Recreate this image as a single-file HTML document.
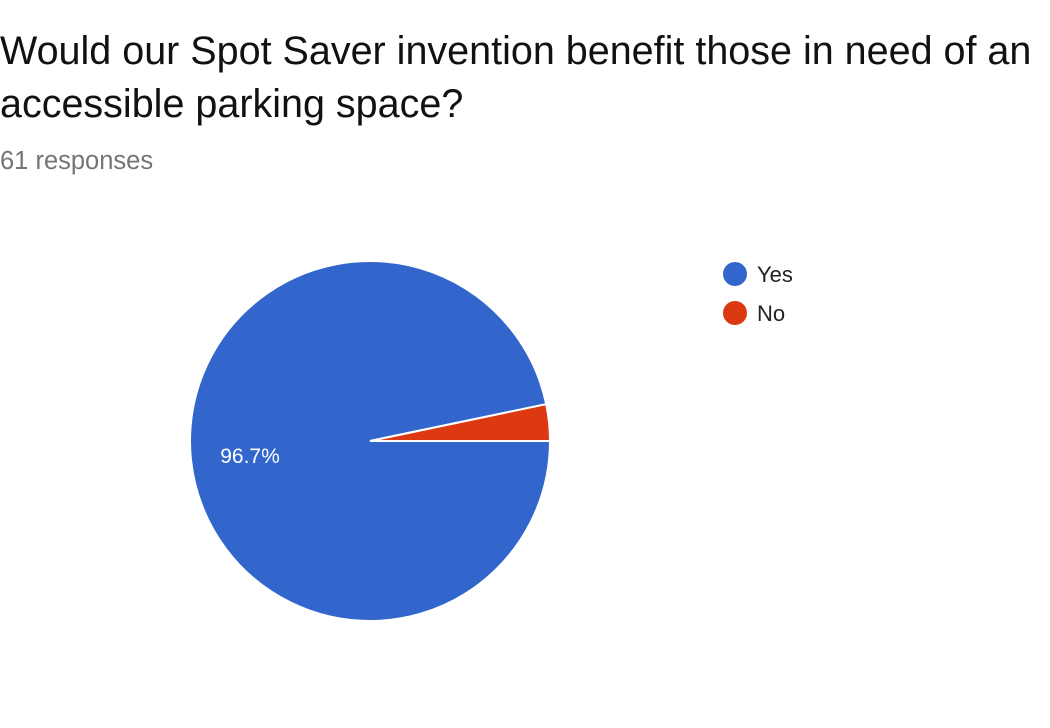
<!DOCTYPE html>
<html><head><meta charset="utf-8"><style>
body{margin:0;width:1050px;height:728px;background:#fff;font-family:"Liberation Sans",sans-serif;overflow:hidden;position:relative}
#title{position:absolute;left:0;top:25px;font-size:39.5px;line-height:53px;color:#111;white-space:nowrap}
#sub{position:absolute;left:0;top:147px;font-size:25.5px;color:#757575}
svg{position:absolute;left:0;top:0}
</style></head><body>
<div id="title">Would our Spot Saver invention benefit those in need of an<br>accessible parking space?</div>
<div id="sub">61 responses</div>
<svg id="chart" width="1050" height="728"></svg>
<script>
const categories=["Yes","No"];
const values=[59,2];
const colors=["#3366cc","#dc3912"];
const svg=document.getElementById('chart');
const NS='http://www.w3.org/2000/svg';
const cx=370,cy=441,r=180;
const total=values.reduce((a,b)=>a+b,0);
let a0=0;
function pt(a,rr){return [cx+rr*Math.cos(a),cy+rr*Math.sin(a)];}
values.forEach((v,i)=>{
  const a1=a0+v/total*2*Math.PI;
  const p0=pt(a0,r),p1=pt(a1,r);
  const large=(a1-a0)>Math.PI?1:0;
  const p=document.createElementNS(NS,'path');
  p.setAttribute('d',`M${cx},${cy}L${p0[0]},${p0[1]}A${r},${r} 0 ${large} 1 ${p1[0]},${p1[1]}Z`);
  p.setAttribute('fill',colors[i]);p.setAttribute('stroke','#fff');p.setAttribute('stroke-width','2');
  
  
  svg.appendChild(p);
  const pct=v/total*100;
  if(pct>5){
    const t=document.createElementNS(NS,'text');
    t.setAttribute('x',250);t.setAttribute('y',463);
    t.setAttribute('fill','#fff');t.setAttribute('font-size','21');t.setAttribute('text-anchor','middle');
    t.setAttribute('font-family','Liberation Sans, sans-serif');
    t.textContent=pct.toFixed(1)+'%';
    
    
    svg.appendChild(t);
  }
  a0=a1;
});
categories.forEach((c,i)=>{
  const y=274+i*39;
  const ci=document.createElementNS(NS,'circle');
  ci.setAttribute('cx',735);ci.setAttribute('cy',y);ci.setAttribute('r',12);ci.setAttribute('fill',colors[i]);
  
  
  svg.appendChild(ci);
  const t=document.createElementNS(NS,'text');
  t.setAttribute('x',757);t.setAttribute('y',y+8);t.setAttribute('font-size','22');t.setAttribute('fill','#222');
  t.setAttribute('font-family','Liberation Sans, sans-serif');
  t.textContent=c;
  
  
  svg.appendChild(t);
});
</script>
</body></html>
